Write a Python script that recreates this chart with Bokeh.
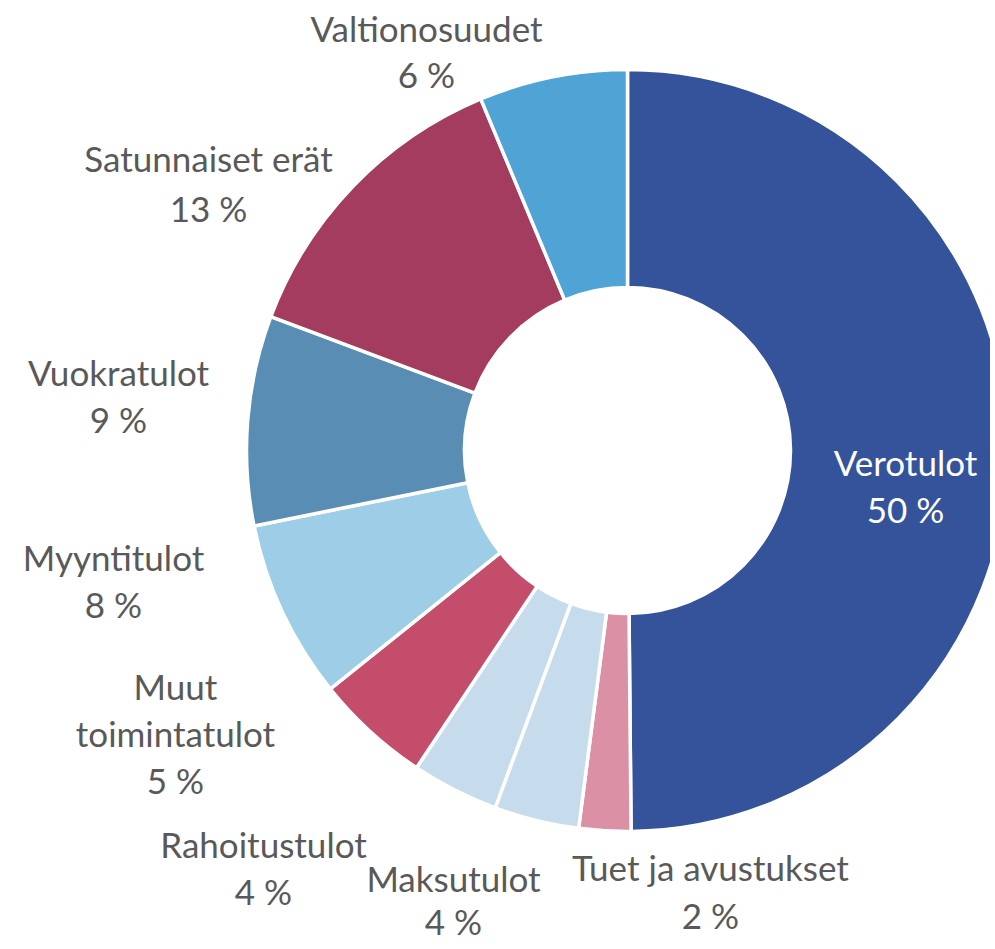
import math
from bokeh.plotting import figure
from bokeh.models import Range1d, ColumnDataSource
from bokeh.core.properties import value
from bokeh.embed import file_html
from bokeh.resources import INLINE

# ---- data (clockwise from 12 o'clock) ----
categories = ["Verotulot", "Tuet ja avustukset", "Maksutulot", "Rahoitustulot",
              "Muut toimintatulot", "Myyntitulot", "Vuokratulot",
              "Satunnaiset erät", "Valtionosuudet"]
shares = [49.9, 2.2, 3.6, 3.7, 4.9, 7.6, 8.9, 13.0, 6.3]
pct_labels = ["50 %", "2 %", "4 %", "4 %", "5 %", "8 %", "9 %", "13 %", "6 %"]
label_lines = [["Verotulot"], ["Tuet ja avustukset"], ["Maksutulot"], ["Rahoitustulot"],
               ["Muut", "toimintatulot"], ["Myyntitulot"], ["Vuokratulot"],
               ["Satunnaiset erät"], ["Valtionosuudet"]]

# ---- style / layout ----
colors = ["#35539a", "#dc90a6", "#c6dbec", "#c6dbec", "#c44d6b",
          "#9dcde7", "#5a8db4", "#a43c60", "#4fa4d5"]
text_colors = ["#ffffff"] + ["#595959"] * 8
# label anchor (center x, first-line y) in page pixels, and line spacing
label_pos = [(905, 461), (710, 866), (453, 877), (263, 843), (175, 685),
             (113, 556), (118, 371), (208, 157), (426, 27)]
label_gap = [47, 48, 43, 47, 47, 47, 47, 50, 46]

W, H = 990, 948
CX, CY = 627, 450
R_OUT, R_IN = 381, 163

p = figure(width=W, height=H, output_backend="svg", toolbar_location=None,
           x_range=Range1d(0, W), y_range=Range1d(-H, 0),
           min_border=0, outline_line_color=None)
p.axis.visible = False
p.grid.visible = False
p.background_fill_color = "white"
p.border_fill_color = "white"

total = sum(shares)
starts, ends = [], []
c = 0.0
for s in shares:
    c0 = c
    c += s / total
    starts.append(math.pi / 2 - 2 * math.pi * c)
    ends.append(math.pi / 2 - 2 * math.pi * c0)

src = ColumnDataSource(dict(x=[CX] * len(shares), y=[-CY] * len(shares),
                            start=starts, end=ends, color=colors, cat=categories))
p.annular_wedge(x="x", y="y", inner_radius=R_IN, outer_radius=R_OUT,
                start_angle="start", end_angle="end", fill_color="color",
                line_color="white", line_width=3.5, source=src)

tx, ty, tt, tc = [], [], [], []
for i, lines in enumerate(label_lines):
    x0, y0 = label_pos[i]
    all_lines = lines + [pct_labels[i]]
    for k, ln in enumerate(all_lines):
        tx.append(x0)
        ty.append(-(y0 + k * label_gap[i]))
        tt.append(ln)
        tc.append(text_colors[i])

p.text(x=tx, y=ty, text=tt, text_color=tc, text_align="center",
       text_baseline="middle", text_font=value("Lato"),
       text_font_size="35px")

open("out.html", "w").write(file_html(p, INLINE))
